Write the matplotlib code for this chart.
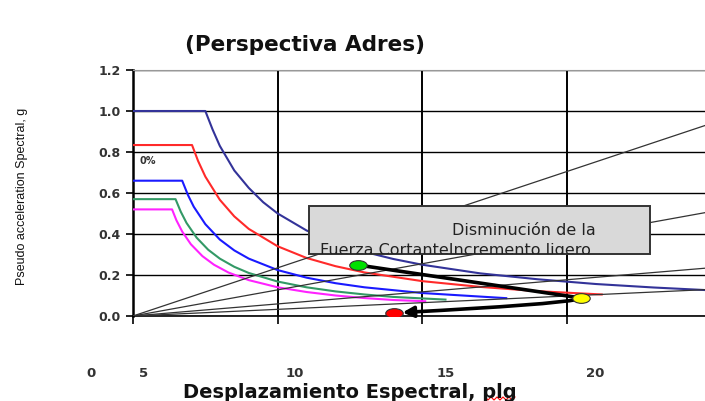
import matplotlib
matplotlib.use("Agg")
import numpy as np
from matplotlib import pyplot as plt
from matplotlib.patches import Rectangle
from matplotlib.markers import MarkerStyle
from matplotlib.transforms import Affine2D, Bbox, TransformedBbox, blended_transform_factory

# espectros de demanda reducidos, Sd (plg) vs Sa (g)
sd_azul_osc = [0, 2.5, 2.75, 3.0, 3.5, 4.0, 4.5, 5, 6, 7, 8, 9, 10, 12, 14, 16, 18, 20]
sa_azul_osc = [1.0, 1.0, 0.91, 0.83, 0.71, 0.625, 0.555, 0.50, 0.417, 0.357, 0.313, 0.278,
               0.25, 0.208, 0.179, 0.156, 0.139, 0.125]

sd_rojo = [0, 2.04, 2.25, 2.5, 3, 3.5, 4, 5, 6, 7, 8, 10, 12, 14, 16.2]
sa_rojo = [0.834, 0.834, 0.756, 0.68, 0.567, 0.486, 0.425, 0.34, 0.283, 0.243, 0.2125,
           0.17, 0.142, 0.121, 0.105]

sd_azul = [0, 1.70, 1.9, 2.1, 2.5, 3, 3.5, 4, 5, 6, 7, 8, 10, 12.9]
sa_azul = [0.66, 0.66, 0.59, 0.533, 0.448, 0.373, 0.32, 0.28, 0.224, 0.187, 0.16, 0.14,
           0.112, 0.087]

sd_verde = [0, 1.47, 1.65, 1.85, 2.2, 2.6, 3, 3.5, 4, 5, 6, 7, 8, 9, 10.8]
sa_verde = [0.57, 0.57, 0.509, 0.454, 0.382, 0.323, 0.28, 0.24, 0.21, 0.168, 0.14, 0.12,
            0.105, 0.093, 0.080]

sd_magenta = [0, 1.35, 1.5, 1.7, 2.0, 2.4, 2.8, 3.3, 4, 5, 6, 7, 8, 9, 10.1]
sa_magenta = [0.52, 0.52, 0.467, 0.412, 0.35, 0.292, 0.25, 0.212, 0.175, 0.14, 0.117, 0.1,
              0.0875, 0.078, 0.072]

# lineas de periodo constante desde el origen
radial_sd_fin = [24, 24, 24, 24]
radial_sa_fin = [1.128, 0.612, 0.283, 0.156]

# puntos de desempeño: inicial (verde), intermedio (amarillo), final (rojo)
puntos_sd = [7.76, 15.48, 9.03]
puntos_sa = [0.249, 0.088, 0.015]

y_ticks = [0.0, 0.2, 0.4, 0.6, 0.8, 1.0, 1.2]
x_tick_labels = ['0', '5', '10', '15', '20']
x_tick_pos = [-1.45, 0.38, 5.6, 10.82, 15.97]


def main():
    fig = plt.figure(figsize=(7.05, 4.01), dpi=100)
    ax = fig.add_axes([133 / 705, 85 / 401, 572 / 705, 246 / 401])

    ax.set_xlim(0, 19.77)
    ax.set_ylim(0, 1.2)

    ax.set_xticks([0, 5, 10, 15])
    ax.set_xticklabels([])
    ax.set_yticks(y_ticks)
    ax.set_yticklabels(['%.1f' % v for v in y_ticks], fontsize=9, fontweight='bold',
                       color='#333333', family='DejaVu Sans')
    ax.tick_params(axis='y', direction='out', length=5, width=1.2, pad=4)
    ax.tick_params(axis='x', direction='out', length=6, width=1.2)

    ax.xaxis.grid(True, color='black', lw=1.4)
    ax.yaxis.grid(True, color='black', lw=1.0)
    ax.set_axisbelow(True)
    ax.spines['right'].set_visible(False)
    ax.spines['top'].set_color('#999999')
    ax.spines['left'].set_linewidth(1.8)
    ax.spines['bottom'].set_linewidth(1.2)

    # espectros
    ax.plot(sd_azul_osc, sa_azul_osc, color='#333399', lw=1.5, zorder=3)
    ax.plot(sd_rojo, sa_rojo, color='#ff2a2a', lw=1.5, zorder=3)
    ax.plot(sd_azul, sa_azul, color='#1a1aff', lw=1.5, zorder=3)
    ax.plot(sd_verde, sa_verde, color='#339966', lw=1.5, zorder=3)
    ax.plot(sd_magenta, sa_magenta, color='#ff22ff', lw=1.5, zorder=3)

    for sdf, saf in zip(radial_sd_fin, radial_sa_fin):
        ax.plot([0, sdf], [0, saf], color='#333333', lw=0.9, zorder=4)

    ax.text(0.24, 0.756, '0%', fontsize=7, fontweight='bold', color='#333333',
            va='center', ha='left', zorder=5)

    # cuadro de texto
    caja = Rectangle((6.08, 0.302), 11.79, 0.235, facecolor='#d9d9d9', edgecolor='#333333',
                     lw=1.4, zorder=6)
    ax.add_patch(caja)
    clip = TransformedBbox(Bbox([[6.08, 0.302], [17.87, 0.537]]), ax.transData)
    t1 = ax.text(13.5, 0.415, 'Disminución de la', fontsize=11.5, ha='center', va='center',
                 color='#222222', zorder=7)
    t2 = ax.text(6.45, 0.318, 'Fuerza CortanteIncremento ligero', fontsize=11.5, ha='left',
                 va='center', color='#222222', zorder=7)
    for t in (t1, t2):
        t.set_clip_on(True)
        t.set_clip_box(clip)

    # trayectoria del punto de desempeño
    ax.plot(puntos_sd[:2], puntos_sa[:2], color='black', lw=2.6, zorder=8,
            solid_capstyle='round')
    ax.annotate('', xy=(puntos_sd[2], puntos_sa[2]), xytext=(puntos_sd[1], puntos_sa[1]),
                arrowprops=dict(arrowstyle='-|>', connectionstyle='angle3,angleA=60,angleB=3',
                                lw=2.6, color='black', mutation_scale=16,
                                shrinkA=3, shrinkB=6),
                zorder=8)

    elipse = MarkerStyle('o', transform=Affine2D().scale(1.8, 1.0))
    colores = ['#00e000', '#ffff00', '#ff0000']
    for sd, sa, c in zip(puntos_sd, puntos_sa, colores):
        ax.plot(sd, sa, marker=elipse, ms=7, mfc=c, mec='#333333', mew=0.8,
                ls='none', zorder=9)

    # etiquetas del eje x
    tr = blended_transform_factory(ax.transData, ax.transAxes)
    for lab, xp in zip(x_tick_labels, x_tick_pos):
        ax.text(xp, -0.235, lab, transform=tr, ha='center', va='center', fontsize=9.5,
                fontweight='bold', color='#333333', clip_on=False)

    fig.text(305 / 705, 1 - 45 / 401, '(Perspectiva Adres)', ha='center', va='center',
             fontsize=15.5, fontweight='bold', color='#111111')
    fig.text(350 / 705, 1 - 392 / 401, 'Desplazamiento Espectral, plg', ha='center',
             va='center', fontsize=14, fontweight='bold', color='#111111')
    fig.text(22 / 705, 1 - 196 / 401, 'Pseudo acceleration Spectral, g', rotation=90,
             ha='center', va='center', fontsize=9, color='#111111',
             family=['Liberation Sans', 'DejaVu Sans'])

    # subrayado de corrector ortografico bajo "plg"
    zx = np.linspace(485, 515, 11) / 705
    zy = (1 - np.array([397, 400] * 5 + [397]) / 401)
    fig.add_artist(plt.Line2D(zx, zy, color='#ff0000', lw=0.8))

    fig.savefig('out.png', dpi=100)


if __name__ == '__main__':
    main()
